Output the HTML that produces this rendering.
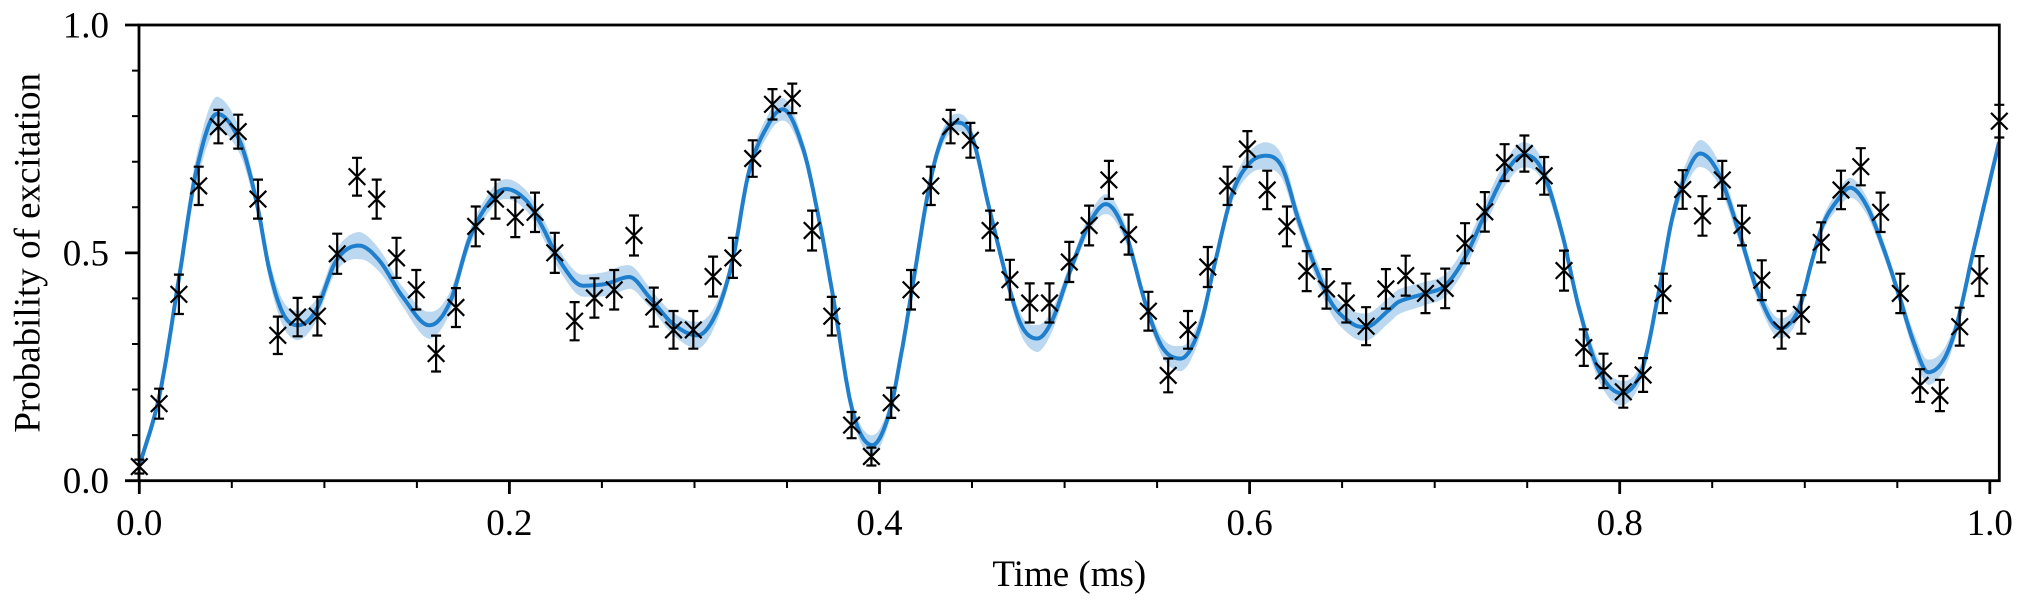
<!DOCTYPE html>
<html><head><meta charset="utf-8">
<style>
html,body{margin:0;padding:0;background:#fff;}
svg{display:block;}
text{font-family:"Liberation Serif","Times New Roman",serif;font-size:37px;fill:#000;}
</style></head>
<body>
<svg id="s" xmlns="http://www.w3.org/2000/svg" width="2025" height="606" viewBox="0 0 2025 606">
<rect width="2025" height="606" fill="#fff"/>
<defs><clipPath id="c"><rect x="139" y="25" width="1860.3" height="455.7"/></clipPath></defs>
<g clip-path="url(#c)">
<path id="band" d="" fill="#1f7fcc" fill-opacity="0.3" stroke="none"/>
<path id="curve" d="" fill="none" stroke="#1f7fcc" stroke-width="4" stroke-linejoin="round" stroke-linecap="round"/>
</g>
<g id="axes" stroke="#000" fill="none">
<rect x="139" y="25" width="1860.3" height="455.7" stroke-width="2.8"/>
<path stroke-width="2.8" d="M125 480.7H139M125 252.85H139M125 25H139"/>
<path stroke-width="2" d="M132 435.13H139M132 389.56H139M132 343.99H139M132 298.42H139M132 207.28H139M132 161.71H139M132 116.14H139M132 70.57H139"/>
<path stroke-width="2.8" d="M139.3 480.7V494M509.4 480.7V494M879.5 480.7V494M1249.6 480.7V494M1619.7 480.7V494M1989.8 480.7V494"/>
<path stroke-width="2" d="M231.8 480.7V488M324.4 480.7V488M416.9 480.7V488M601.9 480.7V488M694.5 480.7V488M787 480.7V488M972 480.7V488M1064.6 480.7V488M1157.1 480.7V488M1342.1 480.7V488M1434.7 480.7V488M1527.2 480.7V488M1712.2 480.7V488M1804.8 480.7V488M1897.3 480.7V488"/>
</g>
<g id="pts" stroke="#000" fill="none">
<path id="eb" d="" stroke-width="2.2"/>
<path id="mk" d="" stroke-width="2.2"/>
</g>
<g>
<text x="109" y="493.2" text-anchor="end">0.0</text>
<text x="109" y="265.4" text-anchor="end">0.5</text>
<text x="109" y="37.5" text-anchor="end">1.0</text>
<text x="139.3" y="535" text-anchor="middle">0.0</text>
<text x="509.4" y="535" text-anchor="middle">0.2</text>
<text x="879.5" y="535" text-anchor="middle">0.4</text>
<text x="1249.6" y="535" text-anchor="middle">0.6</text>
<text x="1619.7" y="535" text-anchor="middle">0.8</text>
<text x="1989.8" y="535" text-anchor="middle">1.0</text>
<text x="1069.3" y="586" text-anchor="middle">Time (ms)</text>
<text transform="translate(39.5,252.85) rotate(-90)" text-anchor="middle">Probability of excitation</text>
</g>
</svg>
<script>
(function(){
const X=t=>139+t*1849, Y=p=>480.7-p*455.7;
const C=[[0,0.03],[0.0112,0.19],[0.022,0.454],[0.031,0.68],[0.0422,0.805],[0.0544,0.746],[0.0634,0.615],[0.0706,0.461],[0.078,0.366],[0.0859,0.341],[0.0958,0.374],[0.1067,0.483],[0.1189,0.516],[0.130,0.483],[0.1427,0.403],[0.157,0.341],[0.168,0.39],[0.179,0.534],[0.1913,0.622],[0.1985,0.640],[0.2094,0.615],[0.2183,0.556],[0.2274,0.483],[0.240,0.428],[0.2526,0.432],[0.2652,0.447],[0.276,0.403],[0.2886,0.345],[0.302,0.319],[0.312,0.366],[0.321,0.483],[0.330,0.68],[0.3408,0.785],[0.3482,0.815],[0.3590,0.731],[0.3679,0.571],[0.3751,0.41],[0.3858,0.155],[0.3966,0.078],[0.4057,0.147],[0.4129,0.293],[0.4183,0.425],[0.4273,0.644],[0.4345,0.753],[0.4426,0.786],[0.4507,0.753],[0.4597,0.600],[0.4705,0.425],[0.4777,0.337],[0.4858,0.312],[0.4939,0.352],[0.503,0.454],[0.5138,0.563],[0.523,0.607],[0.5336,0.542],[0.5444,0.388],[0.5534,0.293],[0.5633,0.268],[0.5732,0.330],[0.5822,0.483],[0.5912,0.629],[0.6002,0.695],[0.6092,0.713],[0.6182,0.688],[0.6272,0.571],[0.6362,0.469],[0.6452,0.388],[0.656,0.345],[0.6633,0.337],[0.6759,0.374],[0.6815,0.393],[0.6958,0.411],[0.7066,0.429],[0.7174,0.492],[0.7282,0.587],[0.739,0.675],[0.7489,0.715],[0.7588,0.682],[0.7696,0.543],[0.7786,0.382],[0.7894,0.243],[0.8017,0.192],[0.8128,0.243],[0.8218,0.411],[0.829,0.572],[0.8362,0.667],[0.8443,0.718],[0.8542,0.675],[0.865,0.550],[0.8758,0.411],[0.8875,0.334],[0.8974,0.374],[0.905,0.485],[0.911,0.565],[0.9196,0.621],[0.9254,0.643],[0.9343,0.604],[0.9434,0.511],[0.9524,0.40],[0.9596,0.306],[0.9677,0.238],[0.9758,0.264],[0.983,0.340],[0.992,0.502],[1.0058,0.74]];
const W=[[0,0.012],[0.042,0.038],[0.065,0.02],[0.086,0.033],[0.10,0.02],[0.119,0.03],[0.14,0.02],[0.157,0.03],[0.175,0.018],[0.20,0.022],[0.23,0.022],[0.26,0.028],[0.28,0.02],[0.302,0.03],[0.32,0.015],[0.348,0.025],[0.37,0.012],[0.397,0.022],[0.42,0.012],[0.443,0.02],[0.465,0.012],[0.486,0.03],[0.505,0.015],[0.523,0.022],[0.545,0.015],[0.563,0.028],[0.585,0.015],[0.609,0.03],[0.63,0.02],[0.66,0.03],[0.70,0.025],[0.72,0.025],[0.749,0.028],[0.775,0.015],[0.80,0.028],[0.82,0.015],[0.845,0.03],[0.87,0.018],[0.888,0.022],[0.91,0.015],[0.925,0.022],[0.95,0.015],[0.968,0.028],[0.99,0.015],[1.006,0.015]];
const P=[0.031,0.169,0.409,0.647,0.777,0.766,0.618,0.319,0.359,0.361,0.498,0.667,0.618,0.489,0.419,0.279,0.380,0.558,0.618,0.578,0.589,0.500,0.350,0.401,0.419,0.538,0.381,0.331,0.331,0.448,0.489,0.707,0.826,0.839,0.549,0.361,0.122,0.053,0.171,0.419,0.647,0.777,0.747,0.549,0.441,0.390,0.390,0.480,0.560,0.660,0.540,0.372,0.231,0.331,0.469,0.647,0.728,0.638,0.558,0.460,0.421,0.390,0.339,0.421,0.450,0.411,0.422,0.521,0.590,0.698,0.718,0.669,0.461,0.292,0.241,0.195,0.232,0.411,0.639,0.581,0.660,0.560,0.440,0.331,0.365,0.523,0.638,0.689,0.589,0.411,0.209,0.187,0.338,0.449,0.789];
function lin(a,t){if(t<=a[0][0])return a[0][1];for(let i=1;i<a.length;i++){if(t<=a[i][0]){const u=a[i-1],v=a[i];return u[1]+(v[1]-u[1])*(t-u[0])/(v[0]-u[0]);}}return a[a.length-1][1];}
const n=C.length,m=[];
for(let k=0;k<n;k++){
 if(k==0)m.push((C[1][1]-C[0][1])/(C[1][0]-C[0][0]));
 else if(k==n-1)m.push((C[k][1]-C[k-1][1])/(C[k][0]-C[k-1][0]));
 else{const a=C[k-1][1],b=C[k][1],c=C[k+1][1];
  if((b>=a&&b>=c)||(b<=a&&b<=c))m.push(0);
  else m.push((c-a)/(C[k+1][0]-C[k-1][0]));}
}
const D=[];
for(let k=0;k<n-1;k++){
 const t0=C[k][0],h=C[k+1][0]-t0,p0=C[k][1],p1=C[k+1][1],S=12;
 for(let j=0;j<S;j++){const s=j/S,s2=s*s,s3=s2*s;
  D.push([t0+s*h,(2*s3-3*s2+1)*p0+(s3-2*s2+s)*h*m[k]+(-2*s3+3*s2)*p1+(s3-s2)*h*m[k+1]]);}
}
D.push(C[n-1]);
const f=v=>v.toFixed(1);
document.getElementById('curve').setAttribute('d','M'+D.map(q=>f(X(q[0]))+','+f(Y(q[1]))).join('L'));
const up=D.map(q=>f(X(q[0]))+','+f(Y(q[1]+lin(W,q[0]))));
const lo=D.slice().reverse().map(q=>f(X(q[0]))+','+f(Y(q[1]-lin(W,q[0]))));
document.getElementById('band').setAttribute('d','M'+up.join('L')+'L'+lo.join('L')+'Z');
let eb='',mk='';
for(let i=0;i<P.length;i++){
 const x=139.3+i*19.787,p=P[i],y=Y(p),e=0.088*Math.sqrt(p*(1-p))*455.7;
 eb+='M'+f(x)+' '+f(y-e)+'V'+f(y+e)+'M'+f(x-5)+' '+f(y-e)+'H'+f(x+5)+'M'+f(x-5)+' '+f(y+e)+'H'+f(x+5);
 mk+='M'+f(x-8.3)+' '+f(y-8.3)+'L'+f(x+8.3)+' '+f(y+8.3)+'M'+f(x+8.3)+' '+f(y-8.3)+'L'+f(x-8.3)+' '+f(y+8.3);
}
document.getElementById('eb').setAttribute('d',eb);
document.getElementById('mk').setAttribute('d',mk);
})();
</script>
</body></html>
